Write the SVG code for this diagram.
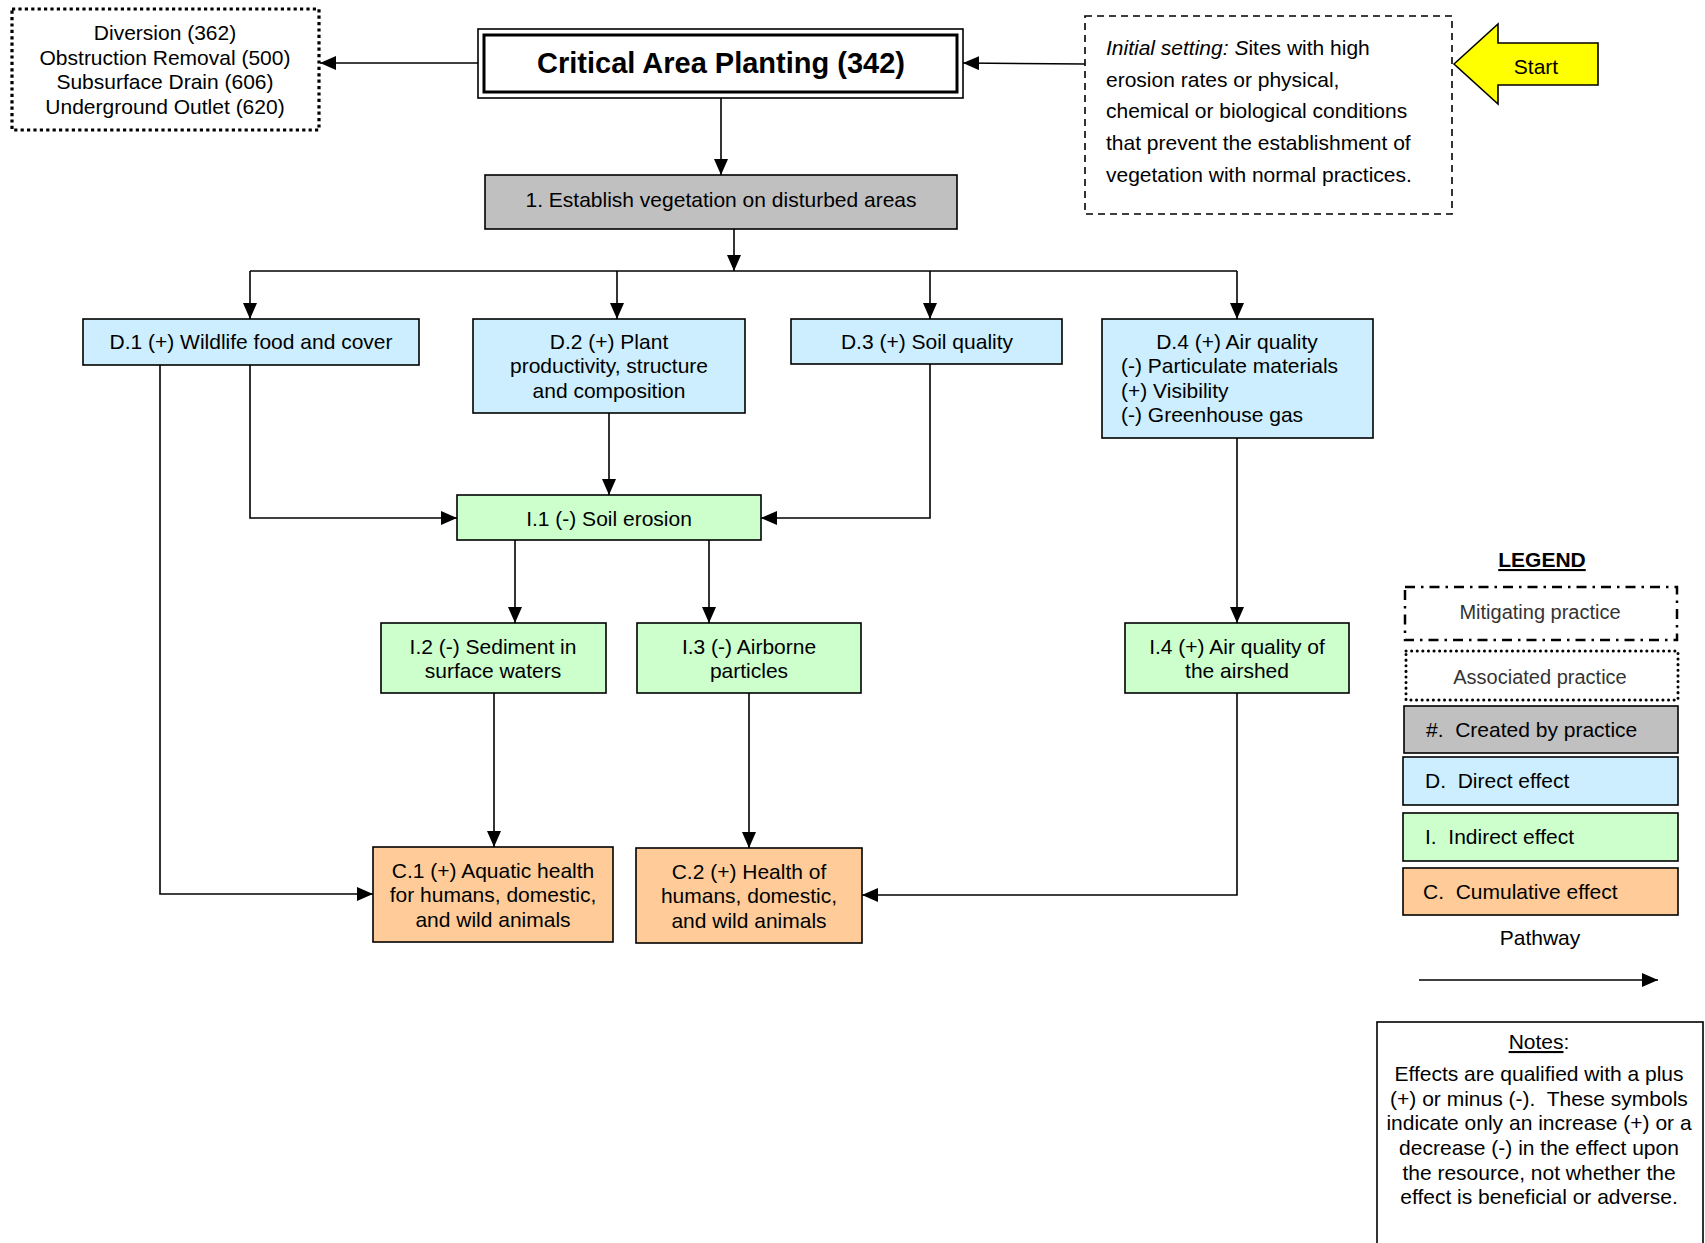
<svg xmlns="http://www.w3.org/2000/svg" width="1705" height="1243" viewBox="0 0 1705 1243">
<style>
text{font-family:"Liberation Sans",Arial,sans-serif;font-size:21px;fill:#000}
.c{text-anchor:middle}
.box{stroke:#000;stroke-width:1.6}
.gray{fill:#c0c0c0}
.blue{fill:#cceeff}
.green{fill:#ccffcc}
.orange{fill:#ffcc99}
.ln{fill:none;stroke:#000;stroke-width:1.6}
</style>
<defs>
<marker id="ah" markerUnits="userSpaceOnUse" markerWidth="16" markerHeight="14" refX="16" refY="7" orient="auto">
<path d="M0,0 L16,7 L0,14 z" fill="#000"/>
</marker>
</defs>
<rect width="1705" height="1243" fill="#fff"/>

<g id="connectors">
<path class="ln" d="M478,63 H320" marker-end="url(#ah)"/>
<path class="ln" d="M1085,64 L963,63" marker-end="url(#ah)"/>
<path class="ln" d="M721,98 V175" marker-end="url(#ah)"/>
<path class="ln" d="M734,229 V271" marker-end="url(#ah)"/>
<path class="ln" d="M250,271 H1237"/>
<path class="ln" d="M250,271 V319" marker-end="url(#ah)"/>
<path class="ln" d="M617,271 V319" marker-end="url(#ah)"/>
<path class="ln" d="M930,271 V319" marker-end="url(#ah)"/>
<path class="ln" d="M1237,271 V319" marker-end="url(#ah)"/>
<path class="ln" d="M160,365 V894 H373" marker-end="url(#ah)"/>
<path class="ln" d="M250,365 V518 H457" marker-end="url(#ah)"/>
<path class="ln" d="M609,413 V495" marker-end="url(#ah)"/>
<path class="ln" d="M930,364 V518 H761" marker-end="url(#ah)"/>
<path class="ln" d="M1237,438 V623" marker-end="url(#ah)"/>
<path class="ln" d="M515,540 V623" marker-end="url(#ah)"/>
<path class="ln" d="M709,540 V623" marker-end="url(#ah)"/>
<path class="ln" d="M494,693 V847" marker-end="url(#ah)"/>
<path class="ln" d="M749,693 V848" marker-end="url(#ah)"/>
<path class="ln" d="M1237,693 V895 H862" marker-end="url(#ah)"/>
</g>

<g id="associated">
<rect x="12" y="9" width="307" height="121" fill="#fff" stroke="#000" stroke-width="3.2" stroke-dasharray="3.2,3.2"/>
<text class="c" x="165" y="40">Diversion (362)</text>
<text class="c" x="165" y="64.5">Obstruction Removal (500)</text>
<text class="c" x="165" y="89">Subsurface Drain (606)</text>
<text class="c" x="165" y="113.5">Underground Outlet (620)</text>
</g>

<g id="practice">
<rect x="478" y="29" width="485" height="69" fill="#fff" stroke="#000" stroke-width="1.6"/>
<rect x="484" y="35" width="473" height="57" fill="none" stroke="#000" stroke-width="3"/>
<text class="c" x="721" y="73" style="font-size:29px;font-weight:bold">Critical Area Planting (342)</text>
</g>

<g id="initial">
<rect x="1085" y="16" width="367" height="198" fill="#fff" stroke="#000" stroke-width="1.6" stroke-dasharray="7,5"/>
<text x="1106" y="55"><tspan font-style="italic">Initial setting: S</tspan>ites with high</text>
<text x="1106" y="87">erosion rates or physical,</text>
<text x="1106" y="118">chemical or biological conditions</text>
<text x="1106" y="150">that prevent the establishment of</text>
<text x="1106" y="182">vegetation with normal practices.</text>
</g>

<g id="start">
<polygon points="1454,64 1498,24 1498,43 1598,43 1598,85 1498,85 1498,104" fill="#ffff00" stroke="#000" stroke-width="1.6"/>
<text class="c" x="1536" y="73.5">Start</text>
</g>

<g id="n1">
<rect class="box gray" x="485" y="175" width="472" height="54"/>
<text class="c" x="721" y="206.5">1. Establish vegetation on disturbed areas</text>
</g>

<g id="d1">
<rect class="box blue" x="83" y="319" width="336" height="46"/>
<text class="c" x="251" y="348.5">D.1 (+) Wildlife food and cover</text>
</g>
<g id="d2">
<rect class="box blue" x="473" y="319" width="272" height="94"/>
<text class="c" x="609" y="348.5">D.2 (+) Plant</text>
<text class="c" x="609" y="373">productivity, structure</text>
<text class="c" x="609" y="397.5">and composition</text>
</g>
<g id="d3">
<rect class="box blue" x="791" y="319" width="271" height="45"/>
<text class="c" x="927" y="348.5">D.3 (+) Soil quality</text>
</g>
<g id="d4">
<rect class="box blue" x="1102" y="319" width="271" height="119"/>
<text class="c" x="1237" y="348.5">D.4 (+) Air quality</text>
<text x="1121" y="373">(-) Particulate materials</text>
<text x="1121" y="397.5">(+) Visibility</text>
<text x="1121" y="422">(-) Greenhouse gas</text>
</g>

<g id="i1">
<rect class="box green" x="457" y="495" width="304" height="45"/>
<text class="c" x="609" y="525.5">I.1 (-) Soil erosion</text>
</g>
<g id="i2">
<rect class="box green" x="381" y="623" width="225" height="70"/>
<text class="c" x="493" y="653.5">I.2 (-) Sediment in</text>
<text class="c" x="493" y="677.5">surface waters</text>
</g>
<g id="i3">
<rect class="box green" x="637" y="623" width="224" height="70"/>
<text class="c" x="749" y="653.5">I.3 (-) Airborne</text>
<text class="c" x="749" y="677.5">particles</text>
</g>
<g id="i4">
<rect class="box green" x="1125" y="623" width="224" height="70"/>
<text class="c" x="1237" y="653.5">I.4 (+) Air quality of</text>
<text class="c" x="1237" y="677.5">the airshed</text>
</g>

<g id="c1">
<rect class="box orange" x="373" y="847" width="240" height="95"/>
<text class="c" x="493" y="877.5">C.1 (+) Aquatic health</text>
<text class="c" x="493" y="902">for humans, domestic,</text>
<text class="c" x="493" y="926.5">and wild animals</text>
</g>
<g id="c2">
<rect class="box orange" x="636" y="848" width="226" height="95"/>
<text class="c" x="749" y="878.5">C.2 (+) Health of</text>
<text class="c" x="749" y="903">humans, domestic,</text>
<text class="c" x="749" y="927.5">and wild animals</text>
</g>

<g id="legend">
<text class="c" x="1542" y="567" style="font-weight:bold;text-decoration:underline">LEGEND</text>
<rect x="1405" y="587" width="272" height="53" fill="#fff" stroke="#000" stroke-width="2.5" stroke-dasharray="10,6,2.5,6"/>
<text class="c" x="1540" y="619" style="fill:#333;font-size:20px">Mitigating practice</text>
<rect x="1406" y="651" width="272" height="49" fill="#fff" stroke="#000" stroke-width="3" stroke-dasharray="0.1,5.5" stroke-linecap="round"/>
<text class="c" x="1540" y="684" style="fill:#333;font-size:20px">Associated practice</text>
<rect class="box gray" x="1404" y="706" width="274" height="47"/>
<text x="1426" y="737" xml:space="preserve">#.  Created by practice</text>
<rect class="box blue" x="1403" y="757" width="275" height="48"/>
<text x="1425" y="788" xml:space="preserve">D.  Direct effect</text>
<rect class="box green" x="1403" y="813" width="275" height="48"/>
<text x="1425" y="843.5" xml:space="preserve">I.  Indirect effect</text>
<rect class="box orange" x="1403" y="868" width="275" height="47"/>
<text x="1423" y="899" xml:space="preserve">C.  Cumulative effect</text>
<text class="c" x="1540" y="945">Pathway</text>
<path class="ln" d="M1419,980 H1658" marker-end="url(#ah)"/>
</g>

<g id="notes">
<rect x="1377" y="1022" width="326" height="240" fill="#fff" stroke="#000" stroke-width="1.6"/>
<text class="c" x="1539" y="1049"><tspan text-decoration="underline">Notes</tspan>:</text>
<text class="c" x="1539" y="1081">Effects are qualified with a plus</text>
<text class="c" x="1539" y="1106" xml:space="preserve">(+) or minus (-).  These symbols</text>
<text class="c" x="1539" y="1130">indicate only an increase (+) or a</text>
<text class="c" x="1539" y="1155">decrease (-) in the effect upon</text>
<text class="c" x="1539" y="1180">the resource, not whether the</text>
<text class="c" x="1539" y="1204">effect is beneficial or adverse.</text>
</g>
</svg>
